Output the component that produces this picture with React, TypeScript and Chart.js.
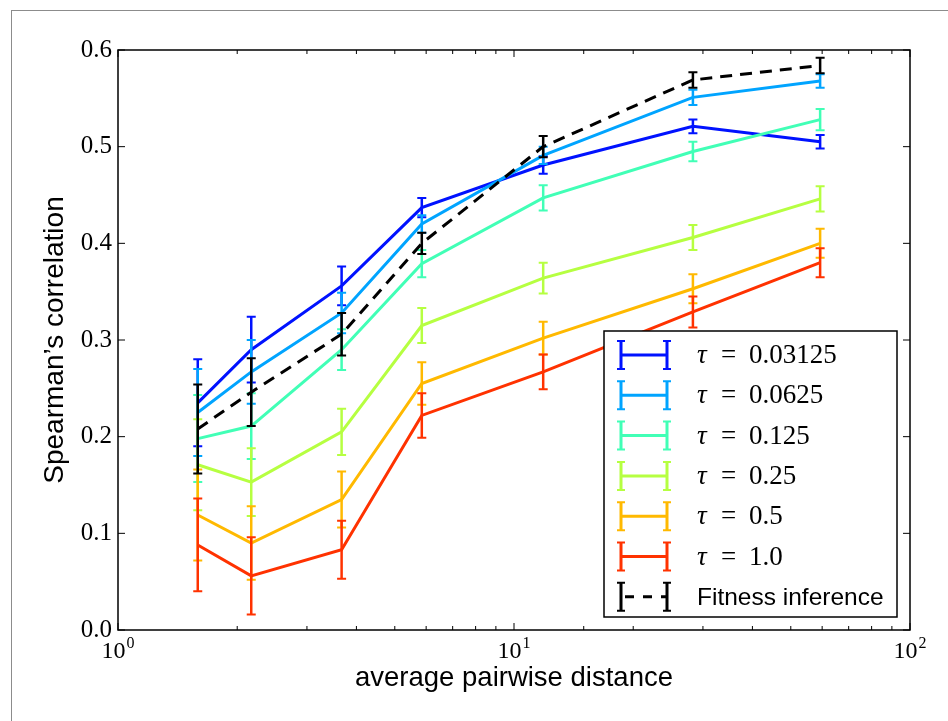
import React, { useEffect, useRef } from 'react';
import { Chart, registerables } from 'chart.js';

Chart.register(...registerables);

// ---- data ----
const distances = [1.59, 2.17, 3.67, 5.85, 11.85, 28.3, 59.3];
const tauLabels = ['0.03125', '0.0625', '0.125', '0.25', '0.5', '1.0'];

const tau003125 = [0.235, 0.290, 0.356, 0.437, 0.481, 0.521, 0.505];
const tau003125Err = [0.045, 0.034, 0.020, 0.010, 0.009, 0.007, 0.007];
const tau00625 = [0.225, 0.267, 0.328, 0.420, 0.491, 0.551, 0.568];
const tau00625Err = [0.045, 0.033, 0.021, 0.009, 0.009, 0.008, 0.007];
const tau0125 = [0.198, 0.211, 0.290, 0.379, 0.447, 0.495, 0.528];
const tau0125Err = [0.045, 0.034, 0.021, 0.014, 0.013, 0.010, 0.011];
const tau025 = [0.171, 0.153, 0.205, 0.315, 0.364, 0.406, 0.446];
const tau025Err = [0.047, 0.035, 0.024, 0.018, 0.016, 0.013, 0.013];
const tau05 = [0.119, 0.090, 0.135, 0.255, 0.302, 0.353, 0.400];
const tau05Err = [0.047, 0.038, 0.029, 0.022, 0.017, 0.015, 0.015];
const tau10 = [0.088, 0.056, 0.083, 0.222, 0.267, 0.329, 0.380];
const tau10Err = [0.048, 0.040, 0.030, 0.023, 0.018, 0.016, 0.015];
const fitnessInference = [0.208, 0.246, 0.306, 0.400, 0.500, 0.569, 0.584];
const fitnessInferenceErr = [0.046, 0.035, 0.022, 0.011, 0.011, 0.008, 0.008];

const yTickValues = [0, 0.1, 0.2, 0.3, 0.4, 0.5, 0.6];
const xMajorTicks = [1, 10, 100];
const xTitle = 'average pairwise distance';
const yTitle = 'Spearman\u2019s correlation';
const fitnessLabel = 'Fitness inference';

const tauSeries = [tau003125, tau00625, tau0125, tau025, tau05, tau10];
const tauErrors = [tau003125Err, tau00625Err, tau0125Err, tau025Err, tau05Err, tau10Err];
const tauColors = ['#0012ff', '#00a4ff', '#41ffb6', '#b6ff41', '#ffb900', '#ff3200'];

const SERIF = '"Liberation Serif", "DejaVu Serif", serif';
const SANS = '"Liberation Sans", "DejaVu Sans", sans-serif';

const allErrors = [...tauErrors, fitnessInferenceErr];

const errorBarPlugin = {
  id: 'errorBars',
  afterDatasetDraw(chart: any, args: any) {
    const idx = args.index;
    const ds = chart.data.datasets[idx];
    const errs = allErrors[idx];
    if (!errs) return;
    const xs = chart.scales.x;
    const ys = chart.scales.y;
    const ctx = chart.ctx;
    ctx.save();
    ctx.strokeStyle = ds.borderColor;
    ctx.setLineDash([]);
    ds.data.forEach((p: any, i: number) => {
      const x = xs.getPixelForValue(p.x);
      const yt = ys.getPixelForValue(p.y + errs[i]);
      const yb = ys.getPixelForValue(p.y - errs[i]);
      ctx.lineWidth = 2.5;
      ctx.beginPath();
      ctx.moveTo(x, yt);
      ctx.lineTo(x, yb);
      ctx.stroke();
      ctx.lineWidth = 2;
      ctx.beginPath();
      ctx.moveTo(x - 4.5, yt);
      ctx.lineTo(x + 4.5, yt);
      ctx.moveTo(x - 4.5, yb);
      ctx.lineTo(x + 4.5, yb);
      ctx.stroke();
    });
    ctx.restore();
  },
};

const framePlugin = {
  id: 'frameTicks',
  afterDraw(chart: any) {
    const { ctx, chartArea: a } = chart;
    const xs = chart.scales.x;
    const ys = chart.scales.y;
    ctx.save();
    ctx.strokeStyle = '#000';
    ctx.lineWidth = 1.5;
    ctx.setLineDash([]);
    ctx.strokeRect(a.left, a.top, a.right - a.left, a.bottom - a.top);
    ctx.lineWidth = 1;
    // x ticks (inward, top and bottom)
    xs.ticks.forEach((t: any) => {
      const v = t.value;
      const x = xs.getPixelForValue(v);
      if (x < a.left - 0.5 || x > a.right + 0.5) return;
      const major = xMajorTicks.includes(v);
      const len = major ? 7 : 4;
      ctx.beginPath();
      ctx.moveTo(x, a.bottom);
      ctx.lineTo(x, a.bottom - len);
      ctx.moveTo(x, a.top);
      ctx.lineTo(x, a.top + len);
      ctx.stroke();
    });
    // y ticks (inward, left and right)
    yTickValues.forEach((v) => {
      const y = ys.getPixelForValue(v);
      ctx.beginPath();
      ctx.moveTo(a.left, y);
      ctx.lineTo(a.left + 7, y);
      ctx.moveTo(a.right, y);
      ctx.lineTo(a.right - 7, y);
      ctx.stroke();
    });
    // x tick labels 10^n
    ctx.fillStyle = '#000';
    ctx.textBaseline = 'alphabetic';
    ctx.textAlign = 'left';
    xMajorTicks.forEach((v) => {
      const x = xs.getPixelForValue(v);
      const exp = String(Math.round(Math.log10(v)));
      ctx.font = `24px ${SERIF}`;
      const wb = ctx.measureText('10').width;
      ctx.font = `16px ${SERIF}`;
      const we = ctx.measureText(exp).width;
      const start = x - (wb + we + 1) / 2;
      ctx.font = `24px ${SERIF}`;
      ctx.fillText('10', start, a.bottom + 28);
      ctx.font = `16px ${SERIF}`;
      ctx.fillText(exp, start + wb + 1, a.bottom + 18);
    });

    // legend
    const bw = 293, bh = 286;
    const bx = a.right - 13 - bw;
    const by = a.bottom - 13 - bh;
    ctx.fillStyle = '#fff';
    ctx.fillRect(bx, by, bw, bh);
    ctx.strokeStyle = '#000';
    ctx.lineWidth = 1.5;
    ctx.strokeRect(bx, by, bw, bh);
    const rowH = 40.3;
    const entries = chart.data.datasets;
    entries.forEach((ds: any, i: number) => {
      const cy = by + 24 + i * rowH;
      const x0 = bx + 17, x1 = bx + 63;
      ctx.strokeStyle = ds.borderColor;
      ctx.lineWidth = 3;
      if (ds.borderDash && ds.borderDash.length) {
        ctx.setLineDash([9, 9]);
        ctx.lineDashOffset = -4;
      } else {
        ctx.setLineDash([]);
      }
      ctx.beginPath();
      ctx.moveTo(x0, cy);
      ctx.lineTo(x1, cy);
      ctx.stroke();
      ctx.setLineDash([]);
      ctx.beginPath();
      ctx.moveTo(x0, cy - 14);
      ctx.lineTo(x0, cy + 14);
      ctx.moveTo(x1, cy - 14);
      ctx.lineTo(x1, cy + 14);
      ctx.stroke();
      ctx.lineWidth = 2;
      ctx.beginPath();
      ctx.moveTo(x0 - 4, cy - 14);
      ctx.lineTo(x0 + 4, cy - 14);
      ctx.moveTo(x0 - 4, cy + 14);
      ctx.lineTo(x0 + 4, cy + 14);
      ctx.moveTo(x1 - 4, cy - 14);
      ctx.lineTo(x1 + 4, cy - 14);
      ctx.moveTo(x1 - 4, cy + 14);
      ctx.lineTo(x1 + 4, cy + 14);
      ctx.stroke();
      ctx.fillStyle = '#000';
      ctx.textBaseline = 'middle';
      const tx = bx + 93;
      if (i < tauLabels.length) {
        ctx.textAlign = 'left';
        ctx.font = `italic 27px ${SERIF}`;
        ctx.fillText('\u03c4', tx, cy + 1);
        ctx.font = `27px ${SERIF}`;
        ctx.textAlign = 'center';
        ctx.fillText('=', tx + 31.5, cy + 1);
        ctx.textAlign = 'left';
        ctx.fillText(tauLabels[i], tx + 52, cy + 1);
      } else {
        ctx.textAlign = 'left';
        ctx.font = `24.5px ${SANS}`;
        ctx.fillText(ds.label, tx, cy + 1);
      }
    });
    ctx.restore();
  },
};

export default function App() {
  const ref = useRef<HTMLCanvasElement | null>(null);
  useEffect(() => {
    if (!ref.current) return;
    const n = tauSeries.length + 1;
    const datasets: any[] = tauSeries.map((s, i) => ({
      label: '\u03c4 = ' + tauLabels[i],
      data: s.map((v, j) => ({ x: distances[j], y: v })),
      borderColor: tauColors[i],
      backgroundColor: tauColors[i],
      borderWidth: 3,
      pointRadius: 0,
      tension: 0,
      fill: false,
      order: n - 1 - i,
    }));
    datasets.push({
      label: fitnessLabel,
      data: fitnessInference.map((v, j) => ({ x: distances[j], y: v })),
      borderColor: '#000',
      backgroundColor: '#000',
      borderWidth: 3,
      borderDash: [12, 8],
      pointRadius: 0,
      tension: 0,
      fill: false,
      order: 0,
    });
    const chart = new Chart(ref.current, {
      type: 'line',
      data: { datasets },
      plugins: [errorBarPlugin, framePlugin],
      options: {
        animation: false,
        responsive: false,
        layout: { padding: { left: 0, right: 38, top: 50, bottom: 0 } },
        plugins: { legend: { display: false }, tooltip: { enabled: false } },
        scales: {
          x: {
            type: 'logarithmic',
            min: 1,
            max: 100,
            grid: { display: false },
            border: { display: false },
            ticks: { display: false, autoSkip: false },
            title: {
              display: true,
              text: xTitle,
              font: { family: SANS, size: 27.5 },
              color: '#000',
              padding: { top: 0, bottom: 26 },
            },
            afterFit: (s: any) => {
              s.height = 91;
            },
          },
          y: {
            type: 'linear',
            min: 0,
            max: 0.6,
            grid: { display: false, drawTicks: false, tickLength: 0 },
            border: { display: false },
            ticks: {
              stepSize: 0.1,
              color: '#000',
              font: { family: SERIF, size: 25 },
              padding: 6,
              callback: (v: any) => Number(v).toFixed(1),
            },
            title: {
              display: true,
              text: yTitle,
              font: { family: SANS, size: 28 },
              color: '#000',
              padding: { top: 38, bottom: 0 },
            },
            afterFit: (s: any) => {
              s.width = 118;
            },
          },
        },
      },
    });
    return () => chart.destroy();
  }, []);

  return (
    <div
      style={{
        position: 'fixed',
        left: 0,
        top: 0,
        width: 948,
        height: 721,
        background: '#fff',
        overflow: 'hidden',
      }}
    >
      <div
        style={{
          position: 'absolute',
          left: 11,
          top: 10,
          width: 1200,
          height: 1000,
          border: '1px solid #8c8c8c',
        }}
      />
      <canvas
        ref={ref}
        width={948}
        height={721}
        style={{ position: 'absolute', left: 0, top: 0, width: 948, height: 721 }}
      />
    </div>
  );
}
